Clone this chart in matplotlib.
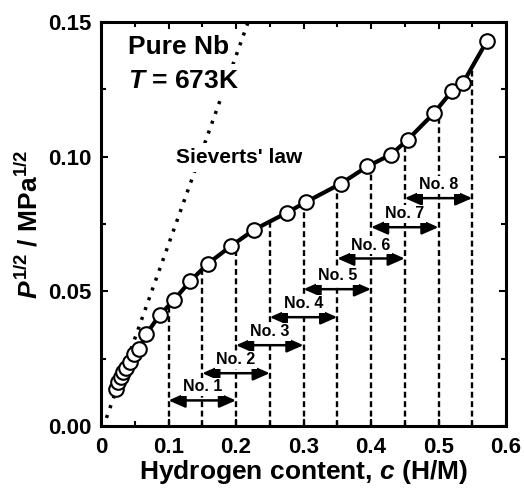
import numpy as np
import matplotlib
matplotlib.use('Agg')
import matplotlib.pyplot as plt
from matplotlib.ticker import MultipleLocator, FormatStrFormatter

plt.rcParams['font.family'] = ['Liberation Sans', 'DejaVu Sans']
plt.rcParams['font.weight'] = 'bold'
plt.rcParams['axes.labelweight'] = 'bold'
plt.rcParams['mathtext.fontset'] = 'custom'
plt.rcParams['mathtext.rm'] = 'Liberation Sans:bold'
plt.rcParams['mathtext.bf'] = 'Liberation Sans:bold'
plt.rcParams['mathtext.it'] = 'Liberation Sans:italic:bold'

c_H = [0.0223, 0.0258, 0.029, 0.033, 0.037, 0.043, 0.0495, 0.057, 0.0669,
       0.0867, 0.1085, 0.1322, 0.1585, 0.1930, 0.227, 0.2754, 0.304, 0.3554,
       0.3948, 0.4297, 0.4545, 0.4930, 0.5200, 0.5363, 0.5719]
sqrtP = [0.0139, 0.0163, 0.0182, 0.0201, 0.0217, 0.0238, 0.0269, 0.0287, 0.0341,
         0.0411, 0.0469, 0.0538, 0.0603, 0.0669, 0.0729, 0.0792, 0.0832, 0.0900,
         0.0964, 0.1008, 0.1063, 0.1161, 0.1244, 0.1274, 0.1430]

# Sieverts' law line
sieverts_c = [0.008, 0.218]
sieverts_P = [0.003, 0.15]

# composition ranges No. 1 .. No. 8
bounds = [0.10, 0.15, 0.20, 0.25, 0.30, 0.35, 0.40, 0.45, 0.50, 0.55]
range_lo = [0.10, 0.15, 0.20, 0.25, 0.30, 0.35, 0.40, 0.45]
range_hi = [0.20, 0.25, 0.30, 0.35, 0.40, 0.45, 0.50, 0.55]
range_y = [0.0095, 0.0196, 0.0300, 0.0404, 0.0508, 0.0622, 0.0738, 0.0846]
range_names = ['No. 1', 'No. 2', 'No. 3', 'No. 4', 'No. 5', 'No. 6', 'No. 7', 'No. 8']

fig = plt.figure(figsize=(5.24, 4.91), dpi=100)
ax = fig.add_axes([101/524, 1-426/491, 405/524, 404/491])

# vertical dashed lines up to the curve
tops = np.interp(bounds, c_H, sqrtP)
for b, t in zip(bounds, tops):
    ax.plot([b, b], [0, t], color='k', lw=1.7, ls=(0, (2.5, 1.5)), zorder=1)

# double arrows + labels
for lo, hi, y, name in zip(range_lo, range_hi, range_y, range_names):
    ax.annotate('', xy=(hi, y), xytext=(lo, y),
                arrowprops=dict(arrowstyle='<|-|>,head_length=0.5,head_width=0.22',
                                color='k', lw=1.8, mutation_scale=20,
                                shrinkA=0, shrinkB=0), zorder=2)
    ax.text((lo + hi) / 2, y + 0.005, name, fontsize=11.5, ha='center', va='center',
            zorder=3, bbox=dict(boxstyle='square,pad=0.1', fc='white', ec='none'))

# Sieverts' law
ax.plot(sieverts_c, sieverts_P, color='k', lw=2.5, ls=(0, (0.9, 2.1)),
        dash_capstyle='butt', zorder=1)

# data
ax.plot(c_H, sqrtP, color='k', lw=3, zorder=4)
ax.plot(c_H, sqrtP, 'o', ms=10.5, mfc='white', mec='k', mew=1.5, zorder=5)

ax.text(0.04, 0.138, 'Pure Nb', fontsize=19, ha='left', va='baseline', zorder=3)
ax.text(0.04, 0.1255, '$T$ = 673K', fontsize=19, ha='left', va='baseline', zorder=3,
        bbox=dict(boxstyle='square,pad=0.2', fc='white', ec='none'))
ax.text(0.111, 0.0977, "Sieverts' law", fontsize=15, ha='left', va='baseline', zorder=3,
        bbox=dict(boxstyle='square,pad=0.25', fc='white', ec='none'))

ax.set_xlim(0, 0.6)
ax.set_ylim(0, 0.15)
ax.xaxis.set_major_locator(MultipleLocator(0.1))
ax.xaxis.set_minor_locator(MultipleLocator(0.05))
ax.yaxis.set_major_locator(MultipleLocator(0.05))
ax.yaxis.set_minor_locator(MultipleLocator(0.025))
ax.xaxis.set_major_formatter(FormatStrFormatter('%g'))
ax.yaxis.set_major_formatter(FormatStrFormatter('%.2f'))
ax.tick_params(which='both', direction='in', top=True, right=True, width=1.5,
               labelsize=16)
ax.tick_params(which='major', length=5)
ax.tick_params(which='minor', length=3.5)
ax.tick_params(axis='y', pad=7)
ax.tick_params(axis='x', pad=8)
for s in ax.spines.values():
    s.set_linewidth(2.2)

ax.set_xlabel('Hydrogen content, $c$ (H/M)', fontsize=19, labelpad=0)
ax.set_ylabel('$P^{1/2}$ / MPa$^{1/2}$', fontsize=19, labelpad=4)

fig.savefig('out.png', dpi=100)
